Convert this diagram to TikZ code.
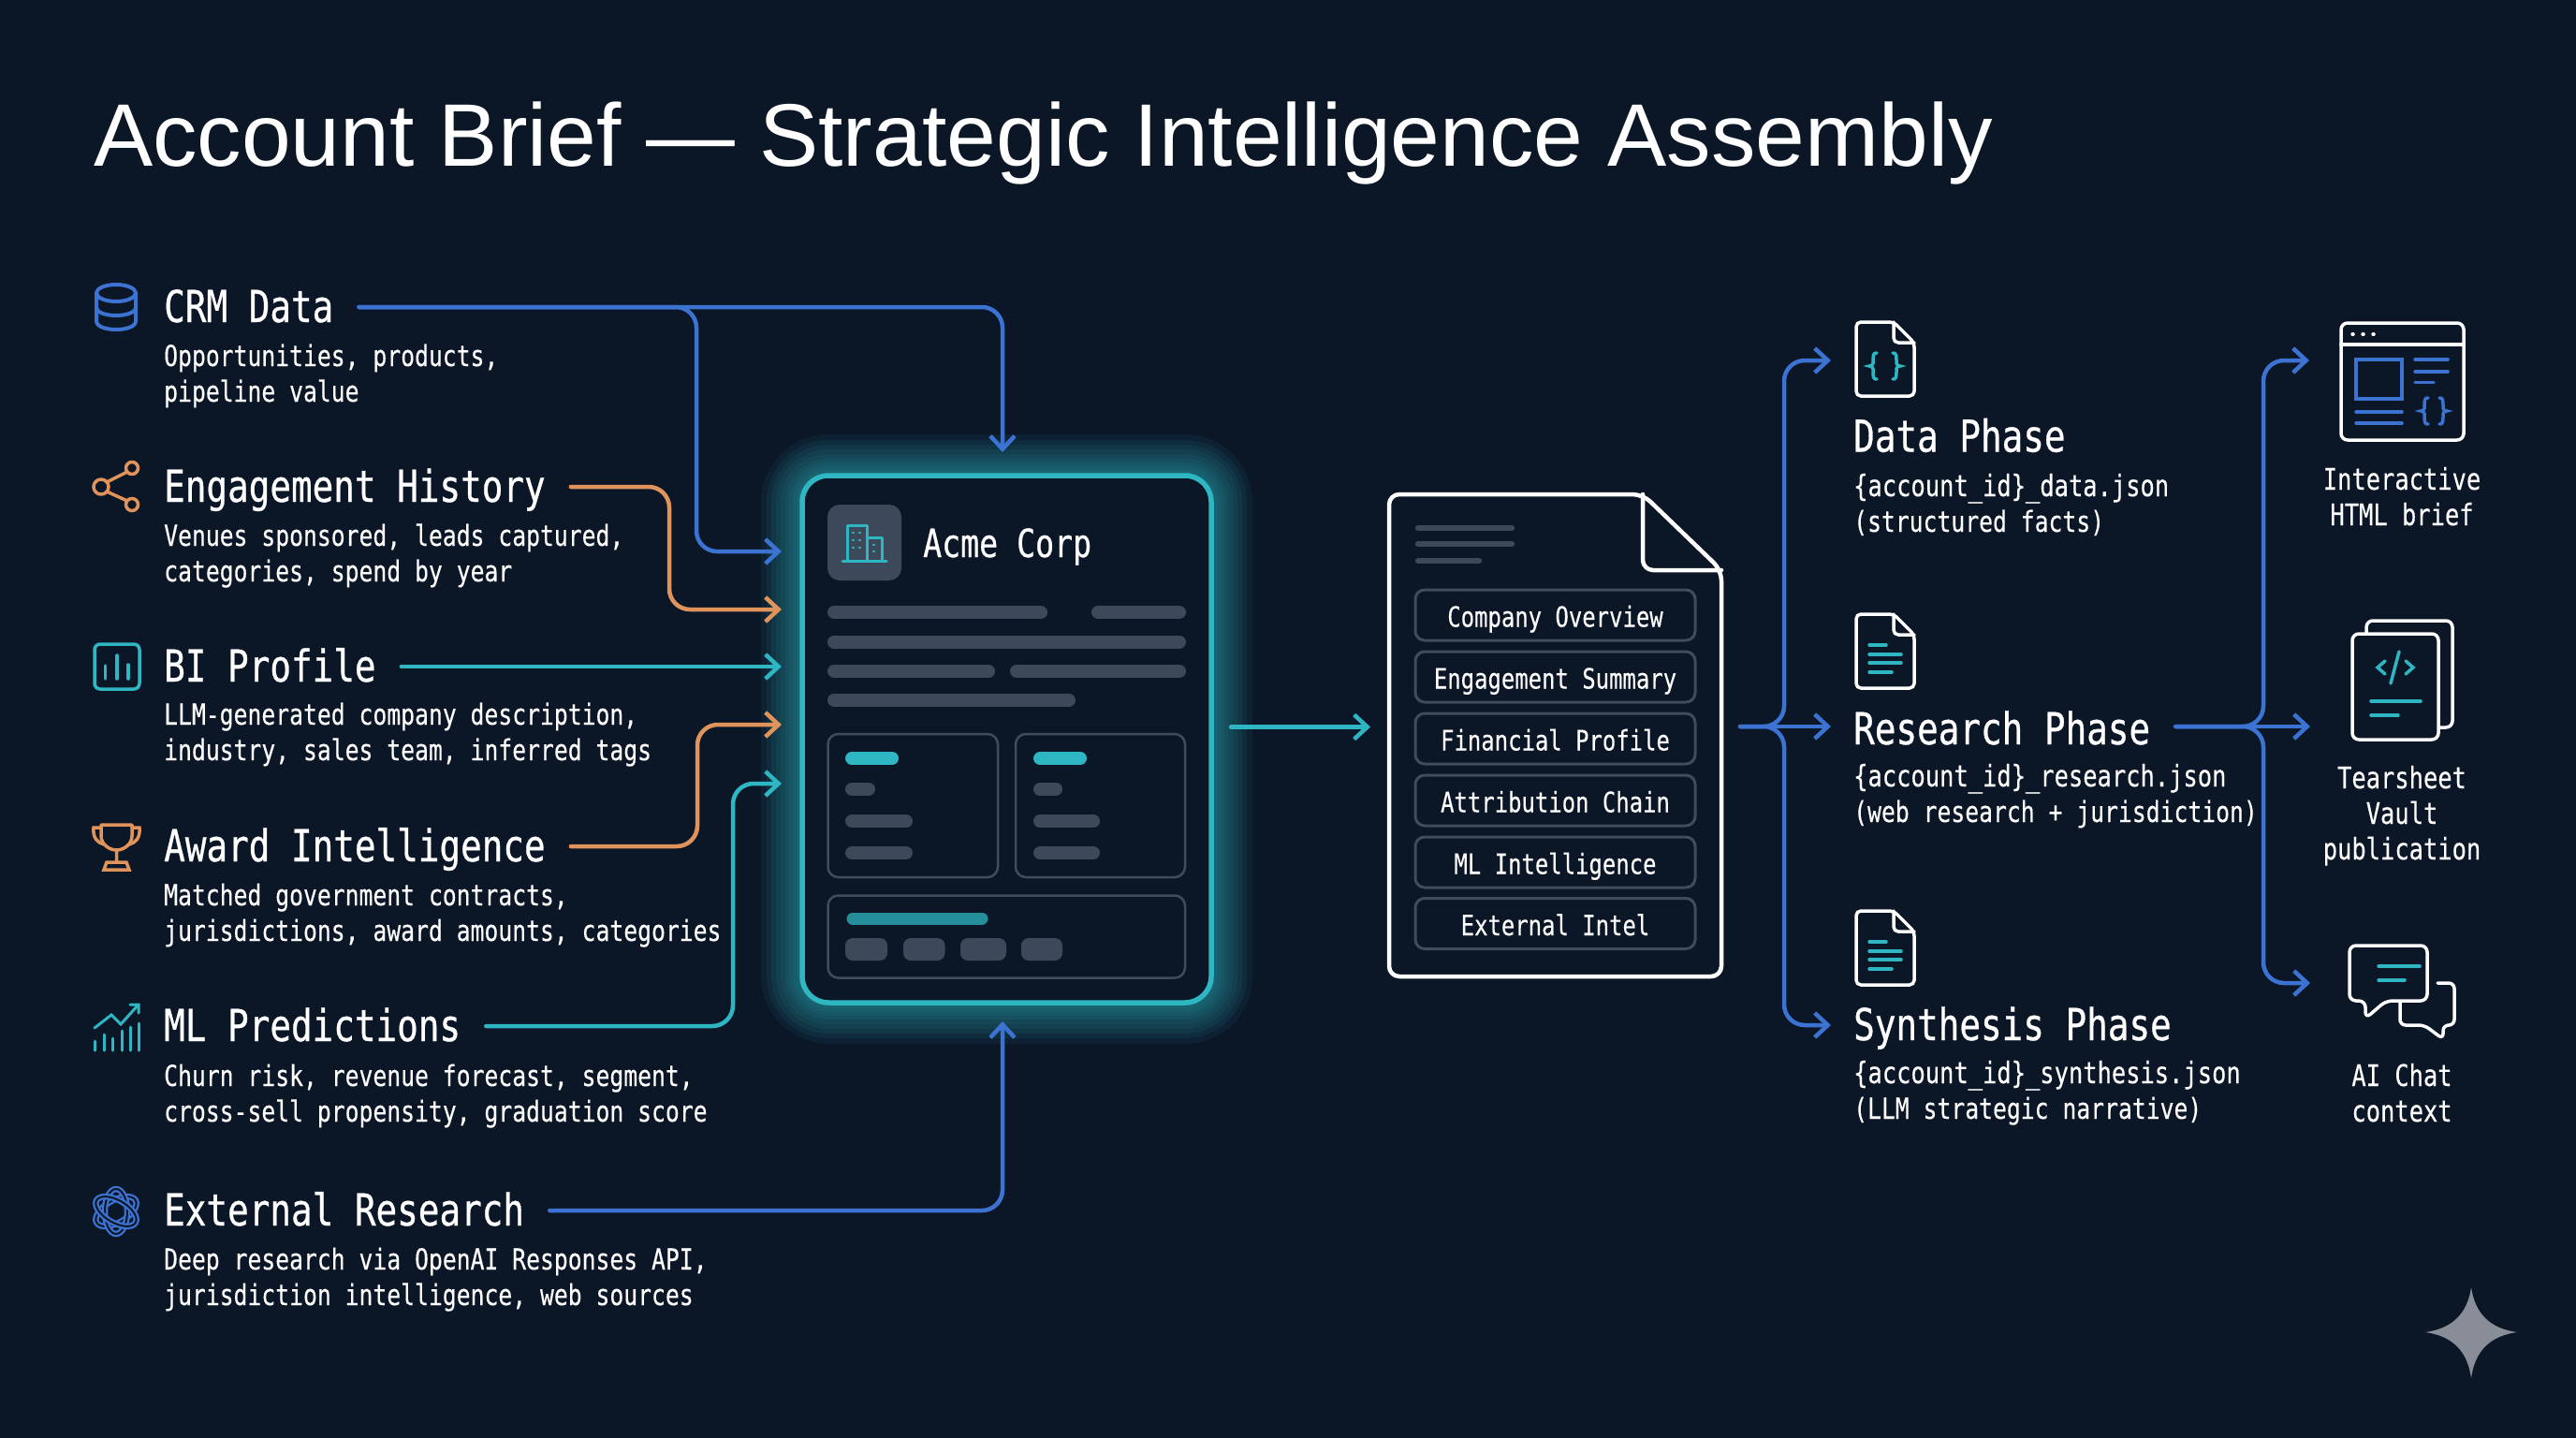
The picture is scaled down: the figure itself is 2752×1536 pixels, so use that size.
\documentclass[tikz,border=0pt]{standalone}
\usepackage{fontspec}
\setmainfont{Liberation Sans}
\newfontfamily\briefmono[FakeStretch=0.8,FakeBold=0.25]{DejaVu Sans Mono}
\newfontfamily\briefhead[FakeStretch=0.8,FakeBold=0.6]{DejaVu Sans Mono}
\usetikzlibrary{arrows.meta}
\begin{document}
\begin{tikzpicture}[x=1pt,y=-1pt,line cap=round,
  headtext/.style={inner sep=0, anchor=west, text height=32, text depth=0, white, font=\briefhead\fontsize{47}{46}\selectfont},
  phasehead/.style={headtext, text height=38},
  desctext/.style={inner sep=0, anchor=base west, align=left, white, font=\briefmono\fontsize{30.9}{38}\selectfont},
  outtext/.style={desctext, anchor=base, align=center, font=\briefmono\fontsize{31.8}{38}\selectfont},
  pilltext/.style={draw=custcol_line, line width=3, rounded corners=10, minimum width=299, minimum height=54, inner sep=0, text height=25, text depth=0, text=white, font=\briefmono\fontsize{29.9}{30}\selectfont},
  wire/.style={line width=4.5, rounded corners=22, -{Straight Barb[length=14pt,width=26pt]}},
  srcwire/.style={wire, shorten <=27pt},
  iconline/.style={line width=3.5, white, rounded corners=5},
  tealmark/.style={line width=3.5, custcol_teal},
  bluemark/.style={line width=3.5, custcol_blue},
  barline/.style={line width=14, custcol_grey},
  tealbar/.style={line width=14, custcol_teal},
  chipbox/.style={fill=custcol_grey, rounded corners=8},
  innerbox/.style={draw=custcol_line, line width=2.5, rounded corners=11},
]
\definecolor{custcol_bg}{RGB}{11, 22, 39}
\definecolor{custcol_blue}{RGB}{60, 115, 210}
\definecolor{custcol_orange}{RGB}{224, 148, 92}
\definecolor{custcol_teal}{RGB}{46, 182, 194}
\definecolor{custcol_grey}{RGB}{60, 73, 90}
\definecolor{custcol_line}{RGB}{62, 76, 92}
\definecolor{custcol_spark}{RGB}{136, 141, 152}
\def\idname#1{{\fontsize{31.8}{38}\selectfont\{account\_id\}\_#1.json}}
\def\glowlayer#1{\fill[custcol_teal, opacity=0.075, rounded corners=28+#1] (857-#1,508-#1) rectangle (1294+#1,1071+#1);}
\def\knotloop#1{\draw[custcol_blue, line width=6.5] (124,1294) ellipse [x radius=24, y radius=12, rotate=#1];
\draw[custcol_bg, line width=2] (124,1294) ellipse [x radius=24, y radius=12, rotate=#1];}
\def\bracemark#1#2#3#4{\draw (#1+#4*5,#2-#3) .. controls (#1+#4*1,#2-#3) and (#1+#4*1,#2-#3+2) .. (#1+#4*1,#2-3) .. controls (#1+#4*1,#2-1) and (#1-#4*1,#2) .. (#1-#4*3,#2) .. controls (#1-#4*1,#2) and (#1+#4*1,#2+1) .. (#1+#4*1,#2+3) .. controls (#1+#4*1,#2+#3-2) and (#1+#4*1,#2+#3) .. (#1+#4*5,#2+#3);}
\def\fileicon#1#2{\draw[iconline] (#1+40,#2) -- (#1,#2) -- (#1,#2+79) -- (#1+62,#2+79) -- (#1+62,#2+22) -- cycle;
\draw[iconline] (#1+40,#2) -- (#1+40,#2+22) -- (#1+62,#2+22);}
\def\filelines#1#2{\draw[tealmark] (#1+14,#2+33) -- (#1+32,#2+33);
\draw[tealmark] (#1+14,#2+43) -- (#1+48,#2+43);
\draw[tealmark] (#1+14,#2+52) -- (#1+48,#2+52);
\draw[tealmark] (#1+14,#2+62) -- (#1+38,#2+62);}
% page
\fill[custcol_bg] (0,0) rectangle (2752,1536);
\useasboundingbox (0,0) rectangle (2752,1536);
\node[inner sep=0, anchor=base west, white, font=\fontsize{94.8}{100}\selectfont] (title) at (100,177) {Account Brief — Strategic Intelligence Assembly};
% sources
\node[headtext] (crmhead) at (175,328) {CRM Data};
\node[desctext] (crmdesc) at (175,429) {Opportunities, products,\\pipeline value};
\node[headtext] (enghead) at (175,520) {Engagement History};
\node[desctext] (engdesc) at (175,621) {Venues sponsored, leads captured,\\categories, spend by year};
\node[headtext] (bihead) at (175,712) {BI Profile};
\node[desctext] (bidesc) at (175,812) {LLM-generated company description,\\industry, sales team, inferred tags};
\node[headtext] (awardhead) at (175,904) {Award Intelligence};
\node[desctext] (awarddesc) at (175,1005) {Matched government contracts,\\jurisdictions, award amounts, categories};
\node[headtext] (mlhead) at (175,1096) {ML Predictions};
\node[desctext] (mldesc) at (175,1198) {Churn risk, revenue forecast, segment,\\cross-sell propensity, graduation score};
\node[headtext] (exthead) at (175,1293) {External Research};
\node[desctext] (extdesc) at (175,1394) {Deep research via OpenAI Responses API,\\jurisdiction intelligence, web sources};
% source icons
\draw[bluemark, line width=4] (124,313) ellipse [x radius=21, y radius=9];
\draw[bluemark, line width=4] (103,313) -- (103,343) .. controls (103,355) and (145,355) .. (145,343) -- (145,313);
\draw[bluemark, line width=4] (103,328) .. controls (103,340) and (145,340) .. (145,328);
\draw[custcol_orange, line width=3.5] (108,520) circle (8) (141,500) circle (6.5) (141,539) circle (6.5);
\draw[custcol_orange, line width=3.5] (114,515) -- (136,504) (114,525) -- (136,535);
\draw[tealmark, rounded corners=6] (101,688) rectangle (149,736);
\draw[tealmark] (112.5,725) -- (112.5,711) (125,725) -- (125,700) (137,725) -- (137,710);
\draw[custcol_orange, line width=3.5, line join=round] (108,881) -- (141,881) -- (141,893) .. controls (141,902) and (132,908) .. (124.5,908) .. controls (117,908) and (108,902) .. (108,893) -- cycle;
\draw[custcol_orange, line width=3.5] (108,884) -- (100,884) .. controls (99,895) and (104,900) .. (111,902);
\draw[custcol_orange, line width=3.5] (141,884) -- (149,884) .. controls (150,895) and (145,900) .. (138,902);
\draw[custcol_orange, line width=3.5] (124.5,908) -- (124.5,920) (114,921) -- (135,921) -- (138,929) -- (111,929) -- cycle;
\draw[tealmark, line width=3] (101,1122) -- (101,1112) (111,1122) -- (111,1105) (120,1122) -- (120,1109) (130,1122) -- (130,1101) (139,1122) -- (139,1097) (148,1122) -- (148,1093);
\draw[tealmark, line width=3] (101,1098) -- (119,1084) -- (129,1094) -- (148,1073) (139,1073) -- (148,1073) -- (148,1082);
\knotloop{30}
\knotloop{90}
\knotloop{150}
% card glow
\glowlayer{44}
\glowlayer{38}
\glowlayer{33}
\glowlayer{28}
\glowlayer{23}
\glowlayer{18}
\glowlayer{14}
\glowlayer{10}
\glowlayer{6}
\glowlayer{3}
\node[draw=custcol_teal, fill=custcol_bg, line width=5.5, rounded corners=28, minimum width=437, minimum height=563, inner sep=0] (card) at (1075.5,789.5) {};
\fill[custcol_grey, rounded corners=13] (884,539) rectangle (963,620);
\draw[tealmark, line width=3, line join=round] (905,598) -- (905,561) -- (926,561) -- (926,598) (926,574) -- (942,574) -- (942,598) (900,599) -- (947,599);
\draw[tealmark, line width=2.5] (911,569) -- (912,569) (918,569) -- (919,569) (911,577) -- (912,577) (918,577) -- (919,577) (911,585) -- (912,585) (918,585) -- (919,585) (933,582) -- (934,582) (933,589) -- (934,589);
\node[inner sep=0, anchor=base west, white, font=\briefhead\fontsize{41.5}{42}\selectfont] (cardname) at (986,595) {Acme Corp};
\draw[barline] (891,654) -- (1112,654);
\draw[barline] (1173,654) -- (1260,654);
\draw[barline] (891,685.5) -- (1260,685.5);
\draw[barline] (891,717) -- (1056,717);
\draw[barline] (1086,717) -- (1260,717);
\draw[barline] (891,747.5) -- (1142,747.5);
\draw[innerbox] (884.5,784) rectangle (1066,937);
\draw[innerbox] (1085,784) rectangle (1266,937);
\draw[tealbar] (910,810) -- (953,810);
\draw[barline] (910,843) -- (928,843);
\draw[barline] (910,877) -- (968,877);
\draw[barline] (910,911) -- (968,911);
\draw[tealbar] (1111,810) -- (1154,810);
\draw[barline] (1111,843) -- (1128,843);
\draw[barline] (1111,877) -- (1168,877);
\draw[barline] (1111,911) -- (1168,911);
\draw[innerbox] (884.5,956.5) rectangle (1266,1044.5);
\draw[tealbar, line width=13, custcol_teal!75!custcol_bg] (911,981) -- (1049,981);
\fill[chipbox] (903,1002) rectangle (948,1026);
\fill[chipbox] (965,1002) rectangle (1009.5,1026);
\fill[chipbox] (1026,1002) rectangle (1075,1026);
\fill[chipbox] (1091,1002) rectangle (1135,1026);
% wires into the card
\coordinate (crmturn) at (1071,328);
\coordinate (cardtop) at (1071,483);
\coordinate (crmbranch) at (744,328);
\coordinate (cardinA) at (835,589);
\coordinate (enginturn) at (715,520);
\coordinate (cardinB) at (835,651);
\coordinate (cardinC) at (835,712);
\coordinate (awardturn) at (745,904);
\coordinate (cardinD) at (835,774);
\coordinate (mlturn) at (783,1096);
\coordinate (cardinE) at (835,837);
\coordinate (extturn) at (1071,1293);
\coordinate (cardbot) at (1071,1091);
\draw[srcwire, custcol_blue] (crmhead.east) -- (crmturn) -- (cardtop);
\draw[srcwire, custcol_blue] (crmhead.east) -- (crmbranch) -- (crmbranch |- cardinA) -- (cardinA);
\draw[srcwire, custcol_orange] (enghead.east) -- (enginturn) -- (enginturn |- cardinB) -- (cardinB);
\draw[srcwire, custcol_teal] (bihead.east) -- (cardinC);
\draw[srcwire, custcol_orange] (awardhead.east) -- (awardturn) -- (awardturn |- cardinD) -- (cardinD);
\draw[srcwire, custcol_teal] (mlhead.east) -- (mlturn) -- (mlturn |- cardinE) -- (cardinE);
\draw[srcwire, custcol_blue] (exthead.east) -- (extturn) -- (cardbot);
% brief document
\coordinate (cardout) at (1315,776.5);
\coordinate (docin) at (1464,776.5);
\draw[wire, custcol_teal] (cardout) -- (docin);
\draw[white, line width=4.5, rounded corners=11, fill=custcol_bg, line join=round] (1755,528) -- (1484,528) -- (1484,1043) -- (1839,1043) -- (1839,609) -- cycle;
\draw[white, line width=4.5, rounded corners=11, line join=round] (1755,528) -- (1755,609) -- (1839,609);
\draw[custcol_grey, line width=6.5] (1515,564) -- (1615,564);
\draw[custcol_grey, line width=6.5] (1515,581) -- (1615,581);
\draw[custcol_grey, line width=6.5] (1515,599) -- (1580,599);
\node[pilltext] (overview) at (1661.5,657) {Company Overview};
\node[pilltext] (summary) at (1661.5,723) {Engagement Summary};
\node[pilltext] (financial) at (1661.5,789) {Financial Profile};
\node[pilltext] (attribution) at (1661.5,855) {Attribution Chain};
\node[pilltext] (mlintel) at (1661.5,921) {ML Intelligence};
\node[pilltext] (extintel) at (1661.5,986.5) {External Intel};
% phases
\node[phasehead] (datahead) at (1980,463.5) {Data Phase};
\node[desctext] (datadesc) at (1980,568) {\idname{data}\\(structured facts)};
\node[phasehead] (researchhead) at (1980,776) {Research Phase};
\node[desctext] (researchdesc) at (1980,878) {\idname{research}\\(web research + jurisdiction)};
\node[phasehead] (synthhead) at (1980,1092) {Synthesis Phase};
\node[desctext] (synthdesc) at (1980,1195) {\idname{synthesis}\\(LLM strategic narrative)};
\fileicon{1983}{344}
\fileicon{1983}{656}
\fileicon{1983}{973}
\filelines{1983}{656}
\filelines{1983}{973}
\begin{scope}[tealmark]
\bracemark{2000}{391}{14}{1}
\bracemark{2027}{391}{14}{-1}
\end{scope}
\coordinate (docout) at (1859,776);
\coordinate (phasesplit) at (1906,776);
\coordinate (datain) at (1956,385);
\coordinate (researchin) at (1956,776);
\coordinate (synthin) at (1956,1095);
\draw[wire, custcol_blue] (docout) -- (researchin);
\draw[wire, custcol_blue] (docout) -- (phasesplit) -- (phasesplit |- datain) -- (datain);
\draw[wire, custcol_blue] (docout) -- (phasesplit) -- (phasesplit |- synthin) -- (synthin);
% outputs
\coordinate (outsplit) at (2418,776);
\coordinate (htmlin) at (2467,385);
\coordinate (vaultin) at (2468,776);
\coordinate (chatin) at (2468,1050);
\draw[srcwire, custcol_blue] (researchhead.east) -- (vaultin);
\draw[srcwire, custcol_blue] (researchhead.east) -- (outsplit) -- (outsplit |- htmlin) -- (htmlin);
\draw[srcwire, custcol_blue] (researchhead.east) -- (outsplit) -- (outsplit |- chatin) -- (chatin);
\draw[iconline, rounded corners=7] (2501,345) rectangle (2632,470);
\draw[iconline, rounded corners=0] (2501,368) -- (2632,368);
\draw[white, line width=3.5] (2513,357) -- (2514,357) (2524,357) -- (2525,357) (2535,357) -- (2536,357);
\draw[bluemark, line cap=rect] (2517,384) rectangle (2566,426);
\draw[bluemark] (2580,384) -- (2615,384) (2580,397) -- (2615,397) (2580,408.5) -- (2600,408.5);
\draw[bluemark] (2517,440) -- (2566,440) (2517,452) -- (2566,452);
\begin{scope}[bluemark]
\bracemark{2589}{439}{14}{1}
\bracemark{2611}{439}{14}{-1}
\end{scope}
\node[outtext] (htmllabel) at (2566,561) {Interactive\\HTML brief};
\draw[iconline, rounded corners=7] (2528,663) rectangle (2620,777);
\draw[iconline, rounded corners=7, fill=custcol_bg] (2513,677) rectangle (2605,790);
\draw[tealmark] (2548,706) -- (2540,713) -- (2548,720) (2570,706) -- (2578,713) -- (2570,720) (2554,730) -- (2563,696);
\draw[tealmark] (2533,749) -- (2586,749) (2533,764) -- (2562,764);
\node[outtext] (vaultlabel) at (2566,918) {Tearsheet\\Vault\\publication};
\draw[iconline, rounded corners=7, line join=round] (2527,1069) -- (2527,1088) -- (2549,1069) -- (2593,1069) -- (2593,1010) -- (2510,1010) -- (2510,1069) -- cycle;
\draw[iconline, rounded corners=6, line join=round] (2604,1050) -- (2622,1050) -- (2622,1095) -- (2610,1095) -- (2610,1110) -- (2590,1095) -- (2564,1095) -- (2564,1070);
\draw[tealmark] (2541,1032) -- (2585,1032) (2541,1047) -- (2569,1047);
\node[outtext] (chatlabel) at (2566,1198) {AI Chat\\context};
% corner mark
\fill[custcol_spark] (2640,1375) .. controls (2644,1403) and (2660,1419) .. (2689,1423) .. controls (2660,1427) and (2644,1443) .. (2640,1472) .. controls (2636,1443) and (2620,1427) .. (2591,1423) .. controls (2620,1419) and (2636,1403) .. (2640,1375) -- cycle;
\end{tikzpicture}
\end{document}
